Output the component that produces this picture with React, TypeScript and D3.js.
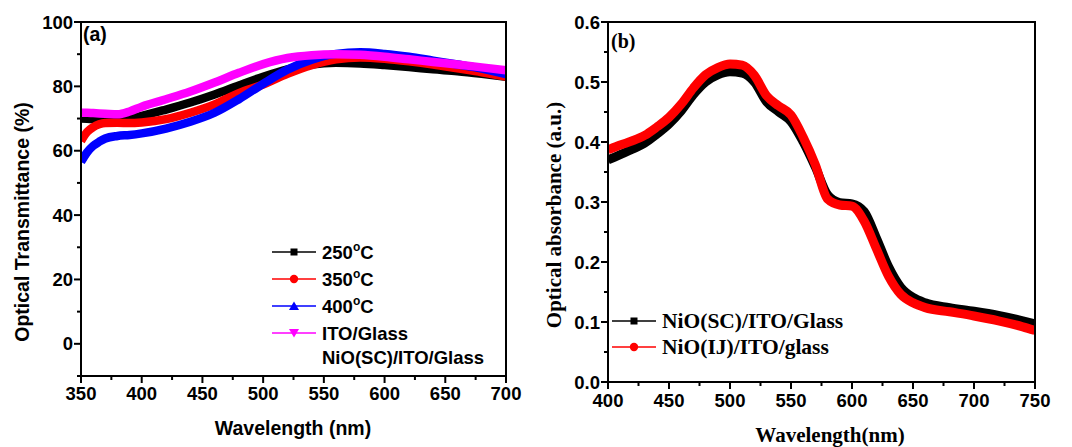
import React from "react";
import * as d3 from "d3";

// ---------- Panel (a): optical transmittance ----------
const transWavelengths = [350, 355, 360, 365, 370, 380, 390, 400, 420, 440, 460, 480, 500, 520, 540, 560, 580, 600, 620, 640, 660, 680, 700];
const trans250 = [70.0, 69.9, 69.8, 69.7, 69.6, 69.6, 70.0, 70.8, 72.8, 75.0, 77.5, 80.3, 83.0, 85.3, 86.8, 87.3, 87.1, 86.6, 86.0, 85.3, 84.7, 83.9, 83.0];
const trans350 = [63.0, 65.8, 67.3, 68.2, 68.6, 68.7, 68.6, 68.8, 69.8, 71.8, 74.4, 77.9, 80.6, 83.9, 86.6, 88.4, 89.0, 88.6, 87.8, 86.8, 85.6, 84.4, 83.0];
const trans400 = [56.5, 59.5, 61.5, 62.8, 63.8, 64.6, 64.9, 65.4, 66.9, 69.0, 71.8, 76.0, 80.8, 85.2, 88.3, 90.1, 90.6, 90.1, 89.2, 88.0, 86.8, 85.5, 83.8];
const transITO = [71.8, 71.8, 71.7, 71.6, 71.5, 71.3, 72.2, 73.7, 76.0, 78.4, 81.2, 84.2, 86.9, 88.8, 89.7, 90.0, 89.8, 89.2, 88.4, 87.6, 86.8, 85.9, 85.0];

const transXTicks = [350, 400, 450, 500, 550, 600, 650, 700];
const transXMinor = [375, 425, 475, 525, 575, 625, 675];
const transYTicks = [0, 20, 40, 60, 80, 100];
const transYMinor = [-10, 10, 30, 50, 70, 90];

const transSeries = [
  { name: "250", unit: true, color: "#000000", marker: "square", values: trans250 },
  { name: "350", unit: true, color: "#ff0000", marker: "circle", values: trans350 },
  { name: "400", unit: true, color: "#0000ff", marker: "triangle", values: trans400 },
  { name: "ITO/Glass", unit: false, color: "#ff00ff", marker: "triangleDown", values: transITO },
];

// ---------- Panel (b): optical absorbance ----------
const absWavelengths = [400, 410, 420, 430, 440, 450, 460, 470, 480, 490, 500, 510, 520, 530, 540, 550, 560, 570, 580, 590, 600, 610, 620, 630, 640, 650, 660, 680, 700, 720, 740, 750];
const absSC = [0.370, 0.379, 0.388, 0.398, 0.413, 0.430, 0.452, 0.479, 0.500, 0.512, 0.517, 0.515, 0.500, 0.467, 0.450, 0.434, 0.400, 0.358, 0.312, 0.299, 0.297, 0.284, 0.240, 0.192, 0.158, 0.141, 0.132, 0.124, 0.118, 0.111, 0.102, 0.097];
const absIJ = [0.387, 0.395, 0.402, 0.411, 0.425, 0.441, 0.463, 0.490, 0.512, 0.524, 0.530, 0.528, 0.511, 0.477, 0.460, 0.445, 0.408, 0.362, 0.305, 0.295, 0.293, 0.268, 0.222, 0.176, 0.146, 0.132, 0.124, 0.117, 0.110, 0.102, 0.092, 0.086];

const absXTicks = [400, 450, 500, 550, 600, 650, 700, 750];
const absXMinor = [425, 475, 525, 575, 625, 675, 725];
const absYTicks = [0.0, 0.1, 0.2, 0.3, 0.4, 0.5, 0.6];
const absYMinor = [0.05, 0.15, 0.25, 0.35, 0.45, 0.55];

const absSeries = [
  { name: "NiO(SC)/ITO/Glass", color: "#000000", marker: "square", values: absSC },
  { name: "NiO(IJ)/ITO/glass", color: "#ff0000", marker: "circle", values: absIJ },
];

const SANS = "'Liberation Sans', Arial, sans-serif";
const SERIF = "'Liberation Serif', 'Times New Roman', serif";

function Marker({ type, x, y, color }: { type: string; x: number; y: number; color: string }) {
  if (type === "square") return <rect x={x - 3.5} y={y - 3.5} width={7} height={7} fill={color} />;
  if (type === "circle") return <circle cx={x} cy={y} r={4.2} fill={color} />;
  if (type === "triangle")
    return <path d={`M${x},${y - 4.5}L${x + 5},${y + 4}L${x - 5},${y + 4}Z`} fill={color} />;
  return <path d={`M${x},${y + 4.5}L${x + 5},${y - 4}L${x - 5},${y - 4}Z`} fill={color} />;
}

function Frame({ x0, x1, y0, y1 }: { x0: number; x1: number; y0: number; y1: number }) {
  return <rect x={x0} y={y0} width={x1 - x0} height={y1 - y0} fill="none" stroke="#000" strokeWidth={2} />;
}

export default function App() {
  // panel (a) geometry
  const A = { x0: 81, x1: 506, y0: 22, y1: 376 };
  const ax = d3.scaleLinear().domain([350, 700]).range([A.x0, A.x1]);
  const ay = d3.scaleLinear().domain([-10, 100]).range([A.y1, A.y0]);

  // panel (b) geometry
  const B = { x0: 608, x1: 1035, y0: 22, y1: 382 };
  const bx = d3.scaleLinear().domain([400, 750]).range([B.x0, B.x1]);
  const by = d3.scaleLinear().domain([0, 0.6]).range([B.y1, B.y0]);

  const lineA = (vals: number[]) =>
    d3
      .line<number>()
      .x((_, i) => ax(transWavelengths[i]))
      .y((v) => ay(v))
      .curve(d3.curveMonotoneX)(vals) || "";

  const lineB = (vals: number[]) =>
    d3
      .line<number>()
      .x((_, i) => bx(absWavelengths[i]))
      .y((v) => by(v))
      .curve(d3.curveMonotoneX)(vals) || "";

  const tickFont = { fontFamily: SANS, fontWeight: 700, fontSize: 18.5 } as const;

  return (
    <svg
      width={1072}
      height={447}
      style={{ position: "absolute", left: 0, top: 0, background: "#fff" }}
    >
      <defs>
        <clipPath id="clipA">
          <rect x={A.x0} y={A.y0} width={A.x1 - A.x0} height={A.y1 - A.y0} />
        </clipPath>
        <clipPath id="clipB">
          <rect x={B.x0} y={B.y0} width={B.x1 - B.x0} height={B.y1 - B.y0} />
        </clipPath>
      </defs>
      <rect width={1072} height={447} fill="#fff" />

      {/* ===== Panel (a) ===== */}
      <g clipPath="url(#clipA)">
        {transSeries.map((s) => (
          <path key={s.name} d={lineA(s.values)} fill="none" stroke={s.color} strokeWidth={8.5} />
        ))}
      </g>
      <Frame {...A} />
      {transXTicks.map((t) => (
        <g key={`ax${t}`}>
          <line x1={ax(t)} x2={ax(t)} y1={A.y1} y2={A.y1 + 7} stroke="#000" strokeWidth={2} />
          <text x={ax(t)} y={A.y1 + 24} textAnchor="middle" {...tickFont}>
            {t}
          </text>
        </g>
      ))}
      {transXMinor.map((t) => (
        <line key={`axm${t}`} x1={ax(t)} x2={ax(t)} y1={A.y1} y2={A.y1 + 4} stroke="#000" strokeWidth={2} />
      ))}
      {transYTicks.map((t) => (
        <g key={`ay${t}`}>
          <line x1={A.x0 - 7} x2={A.x0} y1={ay(t)} y2={ay(t)} stroke="#000" strokeWidth={2} />
          <text x={A.x0 - 8} y={ay(t)} dy="0.36em" textAnchor="end" {...tickFont}>
            {t}
          </text>
        </g>
      ))}
      {transYMinor.map((t) => (
        <line key={`aym${t}`} x1={A.x0 - 4} x2={A.x0} y1={ay(t)} y2={ay(t)} stroke="#000" strokeWidth={2} />
      ))}
      <text x={83} y={41} fontFamily={SANS} fontWeight={700} fontSize={19.5}>
        (a)
      </text>
      <text
        transform={`translate(29,222) rotate(-90)`}
        textAnchor="middle"
        fontFamily={SANS}
        fontWeight={700}
        fontSize={19.5}
      >
        Optical Transmittance (%)
      </text>
      <text x={293} y={435} textAnchor="middle" fontFamily={SANS} fontWeight={700} fontSize={19.5}>
        Wavelength (nm)
      </text>

      {/* legend (a) */}
      {transSeries.map((s, i) => {
        const cy = 252 + i * 27;
        return (
          <g key={`la${s.name}`}>
            <line x1={272} x2={316} y1={cy} y2={cy} stroke={s.color} strokeWidth={1.3} />
            <Marker type={s.marker} x={294} y={cy} color={s.color} />
            <text x={322} y={cy + 6.5} fontFamily={SANS} fontWeight={700} fontSize={18.5}>
              {s.name}
              {s.unit && (
                <>
                  <tspan dy={-7.5} fontSize={12}>o</tspan>
                  <tspan dy={7.5}>C</tspan>
                </>
              )}
            </text>
          </g>
        );
      })}
      <text x={322} y={364} fontFamily={SANS} fontWeight={700} fontSize={18.5}>
        NiO(SC)/ITO/Glass
      </text>

      {/* ===== Panel (b) ===== */}
      <g clipPath="url(#clipB)">
        {absSeries.map((s) => (
          <path key={s.name} d={lineB(s.values)} fill="none" stroke={s.color} strokeWidth={9} />
        ))}
      </g>
      <Frame {...B} />
      {absXTicks.map((t) => (
        <g key={`bx${t}`}>
          <line x1={bx(t)} x2={bx(t)} y1={B.y1} y2={B.y1 + 7} stroke="#000" strokeWidth={2} />
          <text x={bx(t)} y={B.y1 + 25} textAnchor="middle" {...tickFont}>
            {t}
          </text>
        </g>
      ))}
      {absXMinor.map((t) => (
        <line key={`bxm${t}`} x1={bx(t)} x2={bx(t)} y1={B.y1} y2={B.y1 + 4} stroke="#000" strokeWidth={2} />
      ))}
      {absYTicks.map((t) => (
        <g key={`by${t}`}>
          <line x1={B.x0 - 7} x2={B.x0} y1={by(t)} y2={by(t)} stroke="#000" strokeWidth={2} />
          <text x={B.x0 - 8} y={by(t)} dy="0.36em" textAnchor="end" {...tickFont}>
            {t.toFixed(1)}
          </text>
        </g>
      ))}
      {absYMinor.map((t) => (
        <line key={`bym${t}`} x1={B.x0 - 4} x2={B.x0} y1={by(t)} y2={by(t)} stroke="#000" strokeWidth={2} />
      ))}
      <text x={611} y={48} fontFamily={SERIF} fontWeight={700} fontSize={20}>
        (b)
      </text>
      <text
        transform={`translate(561,215) rotate(-90)`}
        textAnchor="middle"
        fontFamily={SERIF}
        fontWeight={700}
        fontSize={21}
      >
        Optical absorbance (a.u.)
      </text>
      <text x={830} y={442} textAnchor="middle" fontFamily={SERIF} fontWeight={700} fontSize={21}>
        Wavelength(nm)
      </text>

      {/* legend (b) */}
      {absSeries.map((s, i) => {
        const cy = 321 + i * 26;
        return (
          <g key={`lb${s.name}`}>
            <line x1={612} x2={656} y1={cy} y2={cy} stroke={s.color} strokeWidth={1.3} />
            <Marker type={s.marker} x={634} y={cy} color={s.color} />
            <text x={662} y={cy + 7} fontFamily={SERIF} fontWeight={700} fontSize={21.5}>
              {s.name}
            </text>
          </g>
        );
      })}
    </svg>
  );
}
